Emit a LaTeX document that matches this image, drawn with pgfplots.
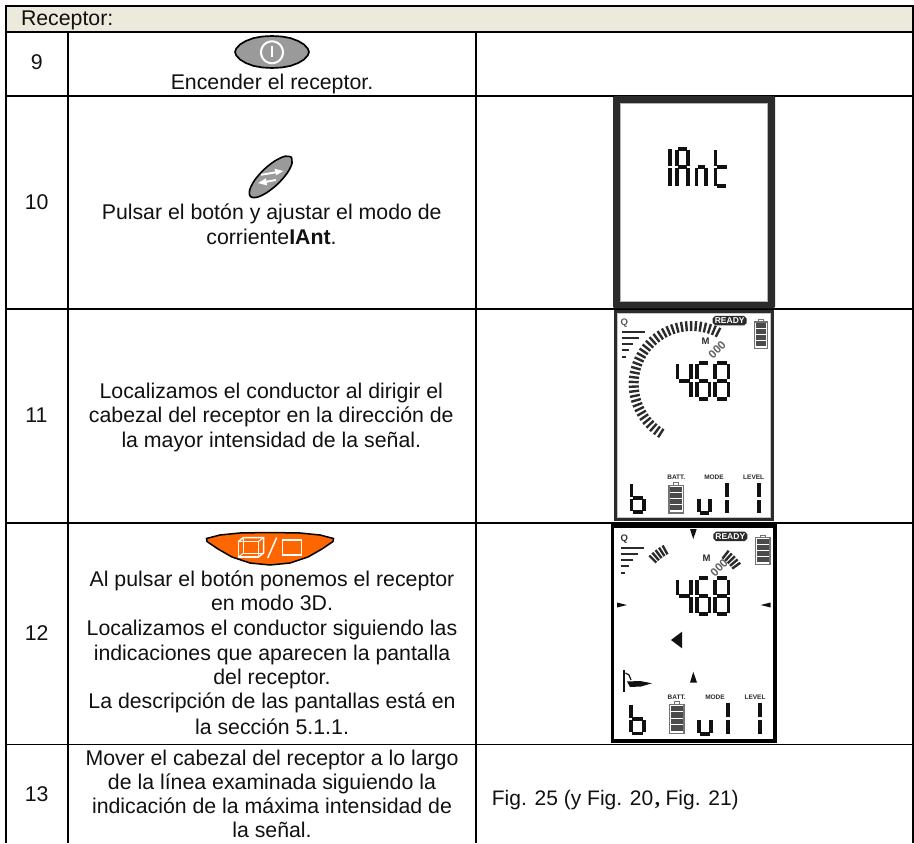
\documentclass[border=0pt]{standalone}
\usepackage{fontspec}
\usepackage{pgfplots}
\pgfplotsset{compat=1.18}
\setmainfont{Liberation Sans}
\newfontfamily\serifcomma{Liberation Serif}
\definecolor{hdr}{HTML}{ECE9DD}
\definecolor{ink}{HTML}{111111}
\definecolor{fr}{HTML}{2B2B2B}
\definecolor{org}{HTML}{FF6600}
\definecolor{btn}{HTML}{9A9A9A}
\pgfplotsset{
 rule/.style={draw=black,line width=1.45pt,line cap=butt},
 lcd/.style={draw=ink,line width=3.7pt,line cap=butt},
 thin lcd/.style={draw=fr,line width=2.2pt,line cap=butt},
 tck/.style={draw=fr,line width=2.4pt,line cap=butt},
 solid fill/.style={fill=#1,draw=none},
 white stroke/.style={draw=white,line width=1.5pt},
}
\tikzset{
 tx/.style={anchor=base,inner sep=0pt,text=ink,font=\fontsize{21.3}{24}\selectfont},
 small/.style={anchor=base,inner sep=0pt,text=fr,font=\fontsize{6.5}{7}\selectfont\bfseries},
 lab/.style={anchor=base,inner sep=0pt,text=fr,font=\fontsize{9.5}{10}\selectfont\bfseries},
 rdy/.style={anchor=base,inner sep=0pt,text=white,font=\fontsize{8.5}{9}\selectfont\bfseries},
}
\newcommand\sg[4]{\addplot[lcd] coordinates {(#1,#2)(#3,#4)};}
\newcommand\digitsetup[5]{\def\xl{#1}\def\xr{#2}\def\yt{#3}\def\ym{#4}\def\ye{#5}%
 \pgfmathsetmacro\xa{#1+1.5}\pgfmathsetmacro\xb{#2-1.5}%
 \pgfmathsetmacro\ya{#3+1.5}\pgfmathsetmacro\yb{#4-1.2}\pgfmathsetmacro\yc{#4+1.2}\pgfmathsetmacro\yd{#5-1.5}}
\newcommand\sT{\sg{\xa}{\yt}{\xb}{\yt}}
\newcommand\sM{\sg{\xa}{\ym}{\xb}{\ym}}
\newcommand\sB{\sg{\xa}{\ye}{\xb}{\ye}}
\newcommand\sUL{\sg{\xl}{\ya}{\xl}{\yb}}
\newcommand\sLL{\sg{\xl}{\yc}{\xl}{\yd}}
\newcommand\sUR{\sg{\xr}{\ya}{\xr}{\yb}}
\newcommand\sLR{\sg{\xr}{\yc}{\xr}{\yd}}
\newcommand\ffs[1]{% digits 4 6 8 with top, mid, bottom y = #1 base
 \pgfmathsetmacro\ymid{#1+18}\pgfmathsetmacro\ybot{#1+36}%
 \digitsetup{677.5}{691}{#1}{\ymid}{\ybot}\sUL\sM\sUR\sLR
 \digitsetup{697}{709.5}{#1}{\ymid}{\ybot}\sT\sUL\sM\sLL\sLR\sB
 \digitsetup{715}{728.5}{#1}{\ymid}{\ybot}\sT\sUL\sUR\sM\sLL\sLR\sB
}
\newcommand\batt[4]{% x1 x2 y1 y2
 \pgfmathsetmacro\cxa{#1+(#2-#1)*0.32}\pgfmathsetmacro\cxb{#1+(#2-#1)*0.68}\pgfmathsetmacro\cyb{#3+2.6}%
 \addplot[draw=gray!90!black,line width=1pt] coordinates {(\cxa,\cyb)(\cxa,#3)(\cxb,#3)(\cxb,\cyb)};
 \addplot[draw=gray!90!black,line width=1.4pt,fill=white] coordinates {(#1,\cyb)(#2,\cyb)(#2,#4)(#1,#4)} --cycle;
 \pgfmathsetmacro\ba{#1+1.5}\pgfmathsetmacro\bb{#2-1.5}%
 \pgfmathsetmacro\hh{(#4-\cyb-3)/4}%
 \pgfplotsforeachungrouped \i in {0,1,2,3}{%
  \pgfmathsetmacro\ty{\cyb+1.6+\i*\hh}\pgfmathsetmacro\tz{\ty+\hh-1.2}%
  \edef\tmp{\noexpand\addplot[fill=fr!85,draw=none] coordinates {(\ba,\ty)(\bb,\ty)(\bb,\tz)(\ba,\tz)} --cycle;}\tmp
 }
}
\newcommand\ready[4]{% x1 x2 y1 y2
 \pgfmathsetmacro\ra{#1+2.5}\pgfmathsetmacro\rb{#2-2.5}\pgfmathsetmacro\rc{#3+2.5}\pgfmathsetmacro\rd{#4-2.5}%
 \addplot[fill=fr,draw=none] coordinates {(\ra,#3)(\rb,#3)(#2,\rc)(#2,\rd)(\rb,#4)(\ra,#4)(#1,\rd)(#1,\rc)} --cycle;
}
\newcommand\arcticks[5]{% cx cy r1 r2 list
 \pgfplotsforeachungrouped \t in {#5}{%
  \pgfmathsetmacro\xp{#1+#3*sin(\t)}\pgfmathsetmacro\yp{#2-#3*cos(\t)}%
  \pgfmathsetmacro\xq{#1+#4*sin(\t)}\pgfmathsetmacro\yq{#2-#4*cos(\t)}%
  \edef\tmp{\noexpand\addplot[tck] coordinates {(\xp,\yp)(\xq,\yq)};}\tmp
 }
}
\begin{document}
\begin{tikzpicture}
\begin{axis}[
 scale only axis,width=914pt,height=843pt,
 xmin=0,xmax=914,ymin=0,ymax=843,y dir=reverse,
 hide axis,clip=false,
]
% page
\addplot[fill=white,draw=none] coordinates {(0,0)(914,0)(914,843)(0,843)} --cycle;
% header band
\addplot[solid fill=hdr] coordinates {(6,6)(913,6)(913,32)(6,32)} --cycle;
% table rules
\addplot[rule] coordinates {(6,843)(6,6)(913,6)(913,843)};
\addplot[rule] coordinates {(6,32)(913,32)};
\addplot[rule] coordinates {(6,96)(913,96)};
\addplot[rule] coordinates {(6,309)(913,309)};
\addplot[rule] coordinates {(6,523)(913,523)};
\addplot[rule] coordinates {(6,744.5)(913,744.5)};
\addplot[rule] coordinates {(68,32)(68,843)};
\addplot[rule] coordinates {(476,32)(476,843)};
% power button
\addplot[fill=btn,draw=black,line width=1.7pt] coordinates {(309,52)(307.7,55.5)(304,59.5)(298.2,63)(290.5,65.9)(281.6,67.5)(272,68)(262.4,67.5)(253.5,65.9)(245.8,63)(240,59.5)(236.3,55.5)(235,52)(236.3,48.5)(240,44.5)(245.8,41)(253.5,38.1)(262.4,36.5)(272,36)(281.6,36.5)(290.5,38.1)(298.2,41)(304,44.5)(307.7,48.5)} --cycle;
\addplot[draw=white,line width=2pt] coordinates {(283,52.3)(282.6,55.1)(281.5,57.8)(279.8,60.1)(277.5,61.8)(274.8,62.9)(272,63.3)(269.2,62.9)(266.5,61.8)(264.2,60.1)(262.5,57.8)(261.4,55.1)(261,52.3)(261.4,49.5)(262.5,46.8)(264.2,44.5)(266.5,42.8)(269.2,41.7)(272,41.3)(274.8,41.7)(277.5,42.8)(279.8,44.5)(281.5,46.8)(282.6,49.5)} --cycle;
\addplot[draw=white,line width=2pt] coordinates {(272,46)(272,57.5)};
% mode button
\addplot[smooth,tension=0.55,fill=btn,draw=black,line width=1.6pt] coordinates {(291.3,157.1)(292,163.4)(287.1,173.2)(277.7,184)(266.5,192.8)(256.5,197.4)(250.3,196.5)(249.6,190.2)(254.5,180.4)(263.9,169.6)(275.1,160.8)(285.2,156.2)(291.3,157.1)};
\addplot[draw=white,line width=1.9pt] coordinates {(261,174.8)(276,172.3)};
\addplot[fill=white,draw=none] coordinates {(274.5,168.8)(283.5,171)(276,175.3)} --cycle;
\addplot[draw=white,line width=1.9pt] coordinates {(276,180)(265,182)};
\addplot[fill=white,draw=none] coordinates {(266,178.3)(258,183)(267,185.4)} --cycle;
% 3D button
\addplot[fill=org,draw=black,line width=1.5pt] coordinates {(206.5,538.5)(220,535)(240,533)(270,532.5)(300,533)(320,535)(333.5,538.5)(333,541.5)(322,549)(308,557)(290,563)(270,565)(250,563)(232,557)(218,549)(207,541.5)} --cycle;
\addplot[white stroke] coordinates {(238.5,541.5)(258.5,541.5)(258.5,557)(238.5,557)} --cycle;
\addplot[white stroke] coordinates {(238.5,541.5)(243.5,537.5)(263.5,537.5)(263.5,553)(258.5,557)};
\addplot[draw=white,line width=1pt] coordinates {(243.5,537.5)(243.5,553)(263.5,553)};
\addplot[draw=white,line width=1pt] coordinates {(243.5,553)(238.5,557)};
\addplot[draw=white,line width=1.1pt] coordinates {(258.5,541.5)(263.5,537.5)};
\addplot[white stroke] coordinates {(267.7,558)(276.7,537.5)};
\addplot[white stroke] coordinates {(282.5,540)(301.5,540)(301.5,555)(282.5,555)} --cycle;
% screen one
\addplot[fill=fr,draw=none] coordinates {(614.5,95.8)(773.5,95.8)(775,97.3)(775,306.8)(773.5,308.3)(614.5,308.3)(613,306.8)(613,97.3)} --cycle;
\addplot[fill=white,draw=gray!60,line width=0.9pt] coordinates {(620,103.3)(767.5,103.3)(767.5,301.8)(620,301.8)} --cycle;
\sg{670}{149}{670}{166.5}\sg{670}{168}{670}{186}
\sg{677}{150}{677}{166.5}\sg{677}{168}{677}{186}
\sg{678}{148.8}{687}{148.8}\sg{678}{167.2}{687}{167.2}
\sg{688}{150}{688}{166.5}\sg{688}{168}{688}{186}
\sg{696.5}{168}{696.5}{186}\sg{697.5}{167.2}{705}{167.2}\sg{706}{168}{706}{186}
\sg{715.5}{150.5}{715.5}{166.5}\sg{715.5}{168}{715.5}{186}
\sg{716.5}{167.2}{727}{167.2}\sg{716.5}{185.7}{725.5}{185.7}
% screen two
\addplot[fill=white,draw=fr,line width=3pt] coordinates {(615,311.5)(772.5,311.5)(772.5,519.3)(615,519.3)} --cycle;
\addplot[draw=gray!45,line width=0.9pt] coordinates {(617.2,313.7)(770.3,313.7)(770.3,517.1)(617.2,517.1)} --cycle;
\addplot[thin lcd] coordinates {(621.7,332.3)(645,332.3)};
\addplot[thin lcd] coordinates {(621.7,338.3)(639,338.3)};
\addplot[thin lcd] coordinates {(621.7,344.3)(633.3,344.3)};
\addplot[thin lcd] coordinates {(621.7,350)(629.3,350)};
\addplot[thin lcd] coordinates {(621.7,356.7)(625.7,356.7)};
\arcticks{691.7}{384}{53}{63}{27,22.4,...,-146}
\ready{712.7}{746.7}{316}{325.3}
\batt{754.3}{767.7}{319.3}{348.3}
\ffs{362.7}
% bottom glyphs
\sg{631.5}{484}{631.5}{497}\sg{631.5}{499}{631.5}{511}\sg{632.5}{498}{643}{498}\sg{644}{499}{644}{511}\sg{632.5}{512.3}{643}{512.3}
\batt{668.8}{683.6}{482.7}{513}
\sg{699}{499}{699}{511.5}\sg{710}{499}{710}{511.5}\sg{700}{512.8}{709}{512.8}
\sg{727.3}{483}{727.3}{497}\sg{727.3}{499.5}{727.3}{513}
\sg{759}{483}{759}{497}\sg{759}{499.5}{759}{513}
% screen three
\addplot[fill=white,draw=black,line width=3.4pt] coordinates {(612.7,526)(775,526)(775,741)(612.7,741)} --cycle;
\addplot[thin lcd] coordinates {(620.7,548.3)(644.3,548.3)};
\addplot[thin lcd] coordinates {(620.7,554)(638.3,554)};
\addplot[thin lcd] coordinates {(620.7,560)(633.3,560)};
\addplot[thin lcd] coordinates {(620.7,565.7)(629,565.7)};
\addplot[thin lcd] coordinates {(620.7,572.7)(625,572.7)};
\arcticks{691.7}{598}{50}{60}{-45,-41,-37,-33,-29}
\arcticks{691.7}{598}{50}{60}{38,42,46,50,54}
\ready{713.3}{747.3}{531.7}{541}
\batt{755.7}{770}{535}{564.3}
\ffs{578}
\addplot[solid fill=ink] coordinates {(690,529)(696.7,529)(693.3,539)} --cycle;
\addplot[solid fill=ink] coordinates {(617,602.5)(617,607.5)(627,605)} --cycle;
\addplot[solid fill=ink] coordinates {(760.5,605)(770.7,602.5)(770.7,607.5)} --cycle;
\addplot[solid fill=ink] coordinates {(671,640)(682,631.7)(682,648.3)} --cycle;
\addplot[solid fill=ink] coordinates {(693.3,671.7)(690,682.7)(697,682.7)} --cycle;
\addplot[draw=ink,line width=2pt] coordinates {(623.5,670)(623.5,691.7)};
\addplot[draw=ink,line width=1.2pt] coordinates {(625.5,673)(629,675)(631,680)};
\addplot[solid fill=ink] coordinates {(627,681.5)(640,681)(652,683.3)(641,686.5)(630,687)} --cycle;
\sg{631}{704.5}{631}{718}\sg{631}{720}{631}{732}\sg{632}{719}{643}{719}\sg{644}{720}{644}{732}\sg{632}{733.5}{643}{733.5}
\batt{669.3}{684}{701.7}{733.3}
\sg{699}{720}{699}{732.5}\sg{711}{720}{711}{732.5}\sg{700}{733.8}{710}{733.8}
\sg{728}{702.5}{728}{717}\sg{728}{720}{728}{734}
\sg{760}{702.5}{760}{717}\sg{760}{720}{760}{734}
% text
\node[tx,anchor=base west] at (axis cs:20.8,26) {Receptor:};
\node[tx] at (axis cs:36.7,70) {9};
\node[tx] at (axis cs:272,90) {Encender el receptor.};
\node[tx] at (axis cs:36.7,210) {10};
\node[tx] at (axis cs:271.7,220) {Pulsar el botón y ajustar el modo de};
\node[tx] at (axis cs:271.5,244.3) {corriente\textbf{IAnt}.};
\node[tx] at (axis cs:36.5,422.7) {11};
\node[tx] at (axis cs:271.3,398.3) {Localizamos el conductor al dirigir el};
\node[tx] at (axis cs:271.3,422.7) {cabezal del receptor en la dirección de};
\node[tx] at (axis cs:271.3,447.3) {la mayor intensidad de la señal.};
\node[tx] at (axis cs:36.7,640.7) {12};
\node[tx] at (axis cs:272,586) {Al pulsar el botón ponemos el receptor};
\node[tx] at (axis cs:272,610.7) {en modo 3D.};
\node[tx] at (axis cs:272,635) {Localizamos el conductor siguiendo las};
\node[tx] at (axis cs:272,660) {indicaciones que aparecen la pantalla};
\node[tx] at (axis cs:272,684) {del receptor.};
\node[tx] at (axis cs:272,708.7) {La descripción de las pantallas está en};
\node[tx] at (axis cs:272,734) {la sección 5.1.1.};
\node[tx] at (axis cs:36.7,801) {13};
\node[tx] at (axis cs:272,765) {Mover el cabezal del receptor a lo largo};
\node[tx] at (axis cs:272,789) {de la línea examinada siguiendo la};
\node[tx] at (axis cs:272,813.7) {indicación de la máxima intensidad de};
\node[tx] at (axis cs:272,837.7) {la señal.};
\node[tx,anchor=base west,font=\fontsize{21}{24}\selectfont] at (axis cs:491.7,805) {Fig. 25 (y Fig. 20{\serifcomma\bfseries\hspace{1.5pt},\hspace{5.5pt}}Fig. 21)};
% screen labels
\node[rdy] at (axis cs:729.7,323.7) {READY};
\node[rdy] at (axis cs:730.3,539.4) {READY};
\node[lab,text=gray!70!black] at (axis cs:624.3,325.3) {Q};
\node[lab,text=gray!40!black] at (axis cs:624.3,541) {Q};
\node[lab] at (axis cs:705.7,344.5) {M};
\node[lab] at (axis cs:706.7,561.3) {M};
\node[lab,font=\fontsize{11.5}{12}\selectfont\bfseries,text=gray!75!black,anchor=center,rotate=45] at (axis cs:717,349.5) {000};
\node[lab,font=\fontsize{11.5}{12}\selectfont\bfseries,text=gray!75!black,anchor=center,rotate=45] at (axis cs:719,567.5) {000};
\node[small] at (axis cs:676.3,479.3) {BATT.};
\node[small] at (axis cs:714,479.3) {MODE};
\node[small] at (axis cs:753.7,479.3) {LEVEL};
\node[small] at (axis cs:676.7,699) {BATT.};
\node[small] at (axis cs:715,699) {MODE};
\node[small] at (axis cs:755,699) {LEVEL};
\end{axis}
\end{tikzpicture}
\end{document}
